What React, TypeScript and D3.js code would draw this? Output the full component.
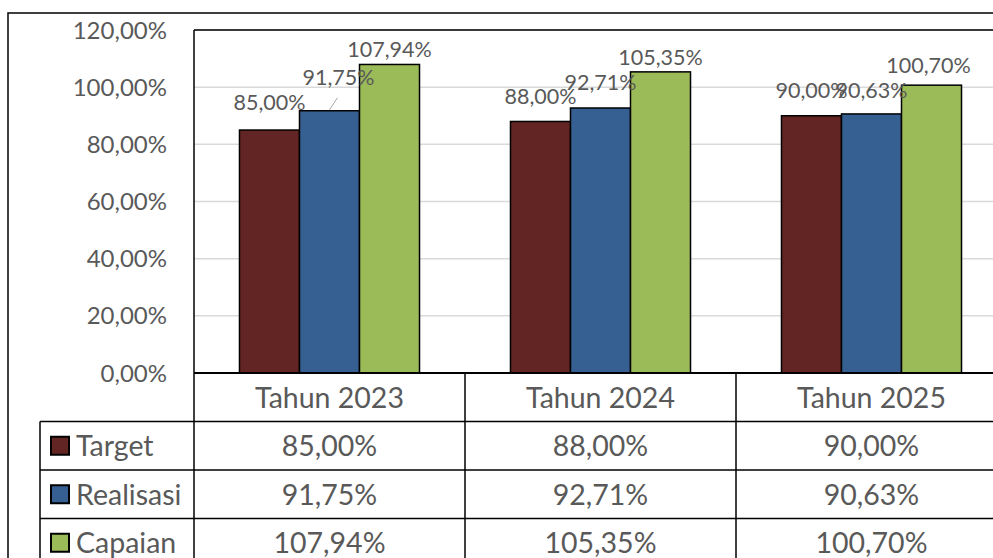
import * as d3 from 'd3'

const categories = ['Tahun 2023', 'Tahun 2024', 'Tahun 2025']
const seriesNames = ['Target', 'Realisasi', 'Capaian']
const target = [85.0, 88.0, 90.0]
const realisasi = [91.75, 92.71, 90.63]
const capaian = [107.94, 105.35, 100.7]
const yTicks = [0, 20, 40, 60, 80, 100, 120]

const seriesValues = [target, realisasi, capaian]
const colors = ['#632523', '#376092', '#9bbb59']

// label nudges (px) to mimic excel's label placement after overlap
const labelDy = [
  [-20, -17, -18],
  [-26, -18, -16],
  [-7, -7, -12],
]
const labelDx = [
  [0, 0, 0],
  [9, 0, 0],
  [0, 0, -3],
]

const W = 993
const H = 558
const FONT = 'Lato, "Open Sans", sans-serif'
const TXT = '#595959'
const FS_LABEL = 21.5
const FS_AXIS = 24
const FS_TABLE = 28.5

const fmt = (v: number) => v.toFixed(2).replace('.', ',') + '%'

export default function App() {
  const plotL = 194
  const colW = 271
  const plotT = 30
  const plotB = 373
  const rowH = 48.5

  const x0 = d3
    .scaleBand<string>()
    .domain(categories)
    .range([plotL, plotL + colW * categories.length])
  const x1 = d3
    .scaleBand<string>()
    .domain(seriesNames)
    .range([0, x0.bandwidth()])
    .paddingInner(0)
    .paddingOuter(0.758)
  const y = d3.scaleLinear().domain([0, 120]).range([plotB, plotT])

  const tableTop = plotB
  const headerB = tableTop + rowH
  const rowsB = headerB + rowH * seriesNames.length

  return (
    <svg
      width={W}
      height={H}
      style={{ position: 'absolute', left: 0, top: 0, background: '#fff' }}
      fontFamily={FONT}
    >
      {/* outer chart border */}
      <rect x={8} y={13} width={W + 20} height={H + 20} fill="#fff" stroke="#000" strokeWidth={1.5} />

      {/* gridlines */}
      {yTicks.map((t) => (
        <line key={t} x1={plotL} x2={W} y1={y(t)} y2={y(t)} stroke="#d9d9d9" strokeWidth={1.5} />
      ))}

      {/* y axis labels */}
      {yTicks.map((t) => (
        <text
          key={'l' + t}
          x={167}
          y={y(t)}
          dy="0.36em"
          textAnchor="end"
          fontSize={FS_AXIS}
          fill={TXT}
        >
          {fmt(t)}
        </text>
      ))}

      {/* bars */}
      {categories.map((c, i) =>
        seriesNames.map((s, k) => {
          const v = seriesValues[k][i]
          return (
            <rect
              key={c + s}
              x={(x0(c) ?? 0) + (x1(s) ?? 0)}
              y={y(v)}
              width={x1.bandwidth()}
              height={plotB - y(v)}
              fill={colors[k]}
              stroke="#000"
              strokeWidth={1.5}
            />
          )
        }),
      )}

      {/* data labels */}
      {categories.map((c, i) =>
        seriesNames.map((s, k) => {
          const v = seriesValues[k][i]
          const cx = (x0(c) ?? 0) + (x1(s) ?? 0) + x1.bandwidth() / 2
          const top = y(v)
          const dx = labelDx[k][i]
          return (
            <g key={'d' + c + s}>
              {dx > 5 && (
                <line x1={cx} y1={top - 1} x2={cx + dx - 1} y2={top - 13} stroke="#a6a6a6" strokeWidth={1} />
              )}
              <text x={cx + dx} y={top + labelDy[k][i]} textAnchor="middle" fontSize={FS_LABEL} fill={TXT}>
                {fmt(v)}
              </text>
            </g>
          )
        }),
      )}

      {/* plot area border (top/left) */}
      <line x1={plotL} x2={W} y1={plotT} y2={plotT} stroke="#000" strokeWidth={1.5} />
      <line x1={plotL} x2={plotL} y1={plotT} y2={H} stroke="#000" strokeWidth={1.5} />

      {/* data table */}
      <line x1={plotL} x2={W} y1={tableTop} y2={tableTop} stroke="#000" strokeWidth={2} />
      {[headerB, ...seriesNames.map((_, k) => headerB + rowH * (k + 1))].map((yy, j) => (
        <line key={'h' + j} x1={40} x2={W} y1={yy} y2={yy} stroke="#000" strokeWidth={1.5} />
      ))}
      <line x1={40} x2={40} y1={headerB} y2={rowsB} stroke="#000" strokeWidth={1.5} />
      {categories.slice(1).map((c) => (
        <line key={'v' + c} x1={x0(c)} x2={x0(c)} y1={tableTop} y2={rowsB} stroke="#000" strokeWidth={1.5} />
      ))}

      {categories.map((c) => (
        <text
          key={'t' + c}
          x={(x0(c) ?? 0) + x0.bandwidth() / 2}
          y={tableTop + rowH / 2}
          dy="0.36em"
          textAnchor="middle"
          fontSize={FS_TABLE}
          fill={TXT}
        >
          {c}
        </text>
      ))}

      {seriesNames.map((s, k) => {
        const cy = headerB + rowH * k + rowH / 2
        return (
          <g key={'r' + s}>
            <rect x={51} y={cy - 9} width={18} height={18} fill={colors[k]} stroke="#000" strokeWidth={2} />
            <text x={76} y={cy} dy="0.36em" fontSize={FS_TABLE} fill={TXT}>
              {s}
            </text>
            {categories.map((c, i) => (
              <text
                key={c}
                x={(x0(c) ?? 0) + x0.bandwidth() / 2}
                y={cy}
                dy="0.36em"
                textAnchor="middle"
                fontSize={FS_TABLE}
                fill={TXT}
              >
                {fmt(seriesValues[k][i])}
              </text>
            ))}
          </g>
        )
      })}
    </svg>
  )
}
